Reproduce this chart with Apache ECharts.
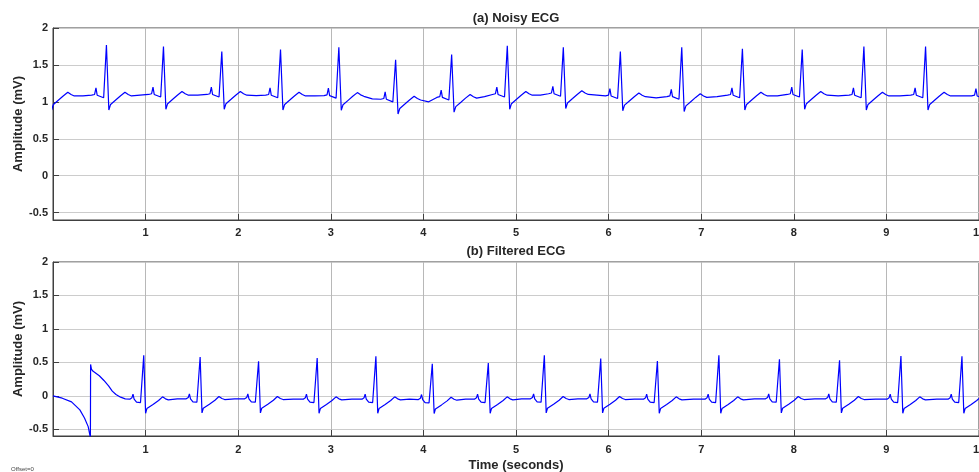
<!DOCTYPE html>
<html>
<head>
<meta charset="utf-8">
<script src="https://cdn.jsdelivr.net/npm/echarts@6/dist/echarts.min.js"></script>
<style>
  html, body { margin: 0; padding: 0; background: #fff; }
  #chart { width: 979px; height: 472px; }
</style>
</head>
<body>
<div id="chart"></div>
<script>
// tick values shared by both panels
const X_TICKS = [0, 1, 2, 3, 4, 5, 6, 7, 8, 9, 10]
const Y_TICKS = [-0.5, 0, 0.5, 1, 1.5, 2]

// (a) noisy ECG: R-peak times (s), R-peak heights, level around each beat, level in the gap after it
const timeA = [-0.04, 0.577, 1.193, 1.823, 2.457, 3.087, 3.700, 4.305, 4.906, 5.511, 6.127, 6.790, 7.445, 8.091, 8.757, 9.423, 10.08]
const peakA = [1.75, 1.77, 1.75, 1.68, 1.71, 1.74, 1.57, 1.64, 1.76, 1.74, 1.68, 1.74, 1.72, 1.71, 1.75, 1.75, 1.75]
const baseA = [1.09, 1.09, 1.10, 1.10, 1.09, 1.085, 1.035, 1.06, 1.10, 1.11, 1.08, 1.07, 1.09, 1.10, 1.09, 1.09, 1.08]
const gapA = [1.08, 1.09, 1.09, 1.085, 1.08, 1.04, 1.0, 1.07, 1.09, 1.09, 1.055, 1.07, 1.08, 1.08, 1.08, 1.08]
// one beat of (a): [offset from R (s), offset from beat level], null = R peak
const beatA = [
  [-0.16, 0], [-0.128, 0.01], [-0.113, 0.1], [-0.1, 0.0], [-0.088, -0.025],
  [-0.03, -0.035], [-0.014, -0.05], [0, null], [0.026, -0.2], [0.045, -0.125],
  [0.1, -0.065], [0.15, -0.01], [0.2, 0.04], [0.235, 0.01], [0.27, -0.01],
]

// (b) filtered ECG
const timeB = [0.980, 1.589, 2.220, 2.853, 3.487, 4.096, 4.701, 5.306, 5.915, 6.527, 7.191, 7.845, 8.494, 9.157, 9.816]
const peakB = [0.605, 0.58, 0.516, 0.565, 0.59, 0.48, 0.49, 0.605, 0.556, 0.52, 0.605, 0.546, 0.53, 0.595, 0.59]
const baseB = [-0.05, -0.045, -0.045, -0.05, -0.05, -0.055, -0.05, -0.045, -0.045, -0.05, -0.05, -0.045, -0.045, -0.05, -0.05]
const gapB = [-0.045, -0.045, -0.05, -0.05, -0.05, -0.05, -0.045, -0.045, -0.05, -0.05, -0.045, -0.045, -0.05, -0.05]
const beatB = [
  [-0.15, 0], [-0.128, 0.02], [-0.116, 0.075], [-0.104, 0.0], [-0.078, -0.045],
  [-0.035, -0.05], [-0.018, -0.055], [0, null], [0.02, -0.21], [0.034, -0.14],
  [0.1, -0.08], [0.16, -0.02], [0.203, 0.035], [0.235, 0.005], [0.265, -0.01],
]
// filter start-up transient before the first beat
const startB = [
  [0, 0], [0.1, -0.035], [0.2, -0.09], [0.29, -0.21], [0.34, -0.33], [0.38, -0.46],
  [0.4, -0.6], [0.404, -0.64], [0.406, 0.47], [0.415, 0.4], [0.43, 0.37], [0.45, 0.36],
  [0.5, 0.3], [0.55, 0.23], [0.6, 0.15], [0.64, 0.07], [0.68, 0.02], [0.73, -0.02], [0.78, -0.045],
]

const buildTrace = (times, peaks, bases, gaps, beat, lead) => {
  const pts = lead ? lead.slice() : []
  times.forEach((t, k) => {
    beat.forEach(([dt, dv]) => pts.push([t + dt, dv === null ? peaks[k] : bases[k] + dv]))
    if (k < times.length - 1) {
      const a = t + beat[beat.length - 1][0]
      const b = times[k + 1] + beat[0][0]
      pts.push([(a + b) / 2, gaps[k]])
    }
  })
  return pts
}

const FONT = 'Liberation Sans, Arial, Helvetica, sans-serif'
const INK = '#262626'

const chart = echarts.init(document.getElementById('chart'))

// outerBoundsMode none: the plot runs to the right edge and "10" gets cut, like the original
const grids = [
  { left: 53, right: 0, top: 28, height: 192, outerBoundsMode: 'none', containLabel: false,
    show: true, borderColor: '#404040', borderWidth: 1, backgroundColor: '#fff' },
  { left: 53, right: 0, top: 262, height: 174, outerBoundsMode: 'none', containLabel: false,
    show: true, borderColor: '#404040', borderWidth: 1, backgroundColor: '#fff' },
]

const xAxisFor = (gi, margin) => ({
  type: 'value', gridIndex: gi, min: 0, max: 10, interval: 1,
  axisLine: { show: true, onZero: false, lineStyle: { color: '#404040' } },
  axisTick: { show: true, inside: true, length: 6, lineStyle: { color: '#404040' } },
  axisLabel: {
    color: INK, fontFamily: FONT, fontWeight: 'bold', fontSize: 11, margin,
    formatter: (v) => (v === 0 ? '' : String(v)),
  },
  splitLine: { show: true, lineStyle: { color: '#b8b8b8', width: 1 } },
})

const yAxisFor = (gi) => ({
  type: 'value', gridIndex: gi, min: -0.6, max: 2,
  axisLine: { show: true, onZero: false, lineStyle: { color: '#404040' } },
  axisTick: { show: true, inside: true, length: 6, customValues: Y_TICKS, lineStyle: { color: '#404040' } },
  axisLabel: { color: INK, fontFamily: FONT, fontWeight: 'bold', fontSize: 11, margin: 5, customValues: Y_TICKS },
  splitLine: { show: true, lineStyle: { color: '#cccccc', width: 1 } },
})

const lineSeries = (gi, data) => ({
  type: 'line', xAxisIndex: gi, yAxisIndex: gi, data,
  showSymbol: false, symbol: 'none', clip: true, smooth: false,
  lineStyle: { color: '#0000ff', width: 1.2 },
})

const text = (x, y, str, size, extra) => ({
  type: 'text', x, y, silent: true,
  style: Object.assign({
    text: str, fill: INK, font: `bold ${size}px ${FONT}`,
    textAlign: 'center', textVerticalAlign: 'middle',
  }, extra || {}),
})

chart.setOption({
  animation: false,
  grid: grids,
  xAxis: [xAxisFor(0, 7), xAxisFor(1, 8)],
  yAxis: [yAxisFor(0), yAxisFor(1)],
  series: [
    lineSeries(0, buildTrace(timeA, peakA, baseA, gapA, beatA)),
    lineSeries(1, buildTrace(timeB, peakB, baseB, gapB, beatB, startB)),
  ],
  graphic: [
    text(516, 18, '(a) Noisy ECG', 13),
    text(516, 251, '(b) Filtered ECG', 13),
    text(516, 465, 'Time (seconds)', 13),
    Object.assign(text(18.5, 124, 'Amplitude (mV)', 13), { rotation: Math.PI / 2 }),
    Object.assign(text(18.5, 349, 'Amplitude (mV)', 13), { rotation: Math.PI / 2 }),
    text(11, 469, 'Offset=0', 6, { font: `6px ${FONT}`, textAlign: 'left', fill: '#444' }),
  ],
})
</script>
</body>
</html>
